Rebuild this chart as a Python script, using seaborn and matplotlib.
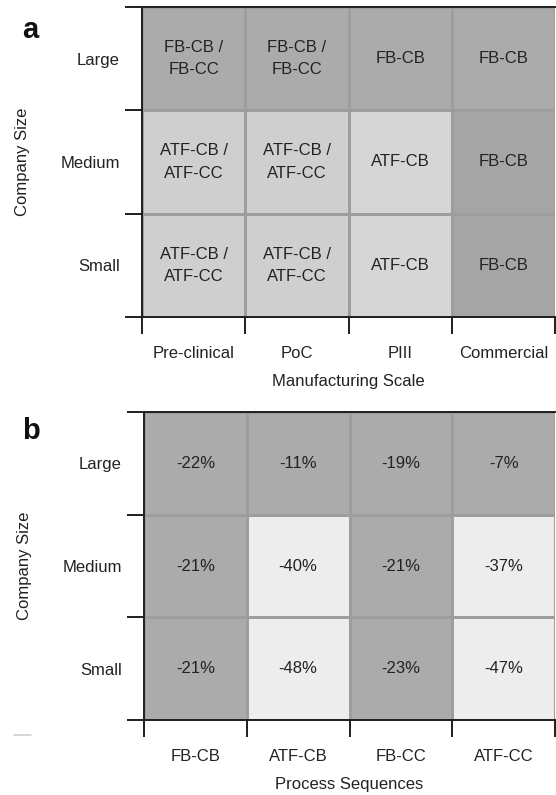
import matplotlib
matplotlib.use('Agg')
import matplotlib.pyplot as plt
import numpy as np
import seaborn as sns
from matplotlib.colors import ListedColormap, BoundaryNorm
from matplotlib.lines import Line2D

sns.set_style('white')
plt.rcParams['font.family'] = ['Liberation Sans', 'DejaVu Sans']

# Data
company_sizes = ['Large', 'Medium', 'Small']
scales = ['Pre-clinical', 'PoC', 'PIII', 'Commercial']
sequences = ['FB-CB', 'ATF-CB', 'FB-CC', 'ATF-CC']

# panel a: recommended sequence per cell and its shading group
a_labels = [['FB-CB /\nFB-CC', 'FB-CB /\nFB-CC', 'FB-CB', 'FB-CB'],
            ['ATF-CB /\nATF-CC', 'ATF-CB /\nATF-CC', 'ATF-CB', 'FB-CB'],
            ['ATF-CB /\nATF-CC', 'ATF-CB /\nATF-CC', 'ATF-CB', 'FB-CB']]
a_group = [[2, 2, 2, 2],
           [0, 0, 1, 3],
           [0, 0, 1, 3]]

# panel b: cost change (%)
b_values = [[-22, -11, -19, -7],
            [-21, -40, -21, -37],
            [-21, -48, -23, -47]]

text_col = '#222222'
spine_col = '#1e1e1e'
fs = 12

fig = plt.figure(figsize=(5.56, 7.95), dpi=100)
ax_a = fig.add_axes([0.2554, 0.6013, 0.7428, 0.3899])
ax_b = fig.add_axes([0.2590, 0.0943, 0.7392, 0.3874])

cmap_a = ListedColormap(['#cfcfcf', '#d6d6d6', '#ababab', '#a5a5a5'])
sns.heatmap(np.array(a_group), ax=ax_a, cmap=cmap_a, vmin=-0.5, vmax=3.5,
            annot=np.array(a_labels), fmt='', cbar=False,
            linewidths=1, linecolor='#9d9d9d',
            annot_kws={'fontsize': fs, 'color': text_col, 'linespacing': 1.6})

cmap_b = ListedColormap(['#ededed', '#ababab'])
norm_b = BoundaryNorm([-100, -30, 0], 2)
vals_b = np.array(b_values)
sns.heatmap(vals_b, ax=ax_b, cmap=cmap_b, norm=norm_b,
            annot=np.array([[f'{v}%' for v in row] for row in b_values]), fmt='',
            cbar=False, linewidths=1, linecolor='#9d9d9d',
            annot_kws={'fontsize': fs, 'color': text_col})

for ax, xcats, xlabel in [(ax_a, scales, 'Manufacturing Scale'),
                          (ax_b, sequences, 'Process Sequences')]:
    ax.set_xticks(np.arange(len(xcats) + 1))
    ax.set_xticklabels([''] * (len(xcats) + 1))
    ax.set_yticks(np.arange(len(company_sizes) + 1))
    ax.set_yticklabels([''] * (len(company_sizes) + 1))
    ax.set_xticks(np.arange(len(xcats)) + 0.5, minor=True)
    ax.set_xticklabels(xcats, minor=True)
    ax.set_yticks(np.arange(len(company_sizes)) + 0.5, minor=True)
    ax.set_yticklabels(company_sizes, minor=True, rotation=0)
    ax.tick_params(which='major', length=12, width=1.4, color=spine_col,
                   bottom=True, left=True)
    ax.tick_params(which='minor', length=0, labelsize=fs, labelcolor=text_col)
    ax.tick_params(axis='x', which='minor', pad=21)
    ax.tick_params(axis='y', which='minor', pad=16)
    for side in ['left', 'top', 'bottom']:
        ax.spines[side].set_visible(True)
        ax.spines[side].set_color(spine_col)
        ax.spines[side].set_linewidth(1.4)
    ax.spines['right'].set_visible(False)
    ax.set_xlabel(xlabel, fontsize=fs, color=text_col, labelpad=9)
    ax.set_ylabel('Company Size', fontsize=fs, color=text_col, labelpad=22)

fig.text(0.04, 0.962, 'a', fontsize=21, fontweight='bold', color='#111111',
         ha='left', va='center')
fig.text(0.04, 0.458, 'b', fontsize=21, fontweight='bold', color='#111111',
         ha='left', va='center')
fig.add_artist(Line2D([0.025, 0.055], [0.075, 0.075], color='#d0d0d0', lw=1.2))

fig.savefig('out.png', dpi=100)
